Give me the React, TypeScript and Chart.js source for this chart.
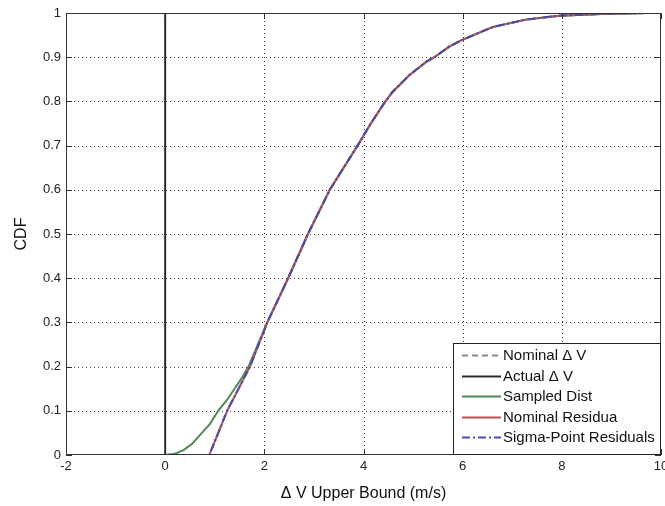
import React, { useEffect, useRef } from "react";
import { Chart, registerables } from "chart.js";

Chart.register(...registerables);

// ---- data ----
const xTicks = [-2, 0, 2, 4, 6, 8, 10];
const yTicks = [0, 0.1, 0.2, 0.3, 0.4, 0.5, 0.6, 0.7, 0.8, 0.9, 1];

const nominalX = [0, 0.89, 1.25, 1.71, 2.06, 2.48, 2.88, 3.32, 3.88, 4.12, 4.41, 4.59, 4.93, 5.27, 5.43, 5.73, 5.97, 6.3, 6.6, 7.27, 7.95, 8.81, 9.69];
const nominalY = [0, 0, 0.1, 0.2, 0.3, 0.4, 0.5, 0.6, 0.7, 0.745, 0.795, 0.822, 0.86, 0.89, 0.9, 0.924, 0.938, 0.954, 0.968, 0.985, 0.994, 0.998, 1.0];

const sigmaX = [0, 0.89, 1.25, 1.71, 2.06, 2.48, 2.88, 3.32, 3.88, 4.12, 4.41, 4.59, 4.93, 5.27, 5.43, 5.73, 5.97, 6.3, 6.6, 7.27, 7.95, 8.81, 9.69];
const sigmaY = [0, 0, 0.1, 0.2, 0.3, 0.4, 0.5, 0.6, 0.7, 0.745, 0.795, 0.822, 0.86, 0.89, 0.9, 0.924, 0.938, 0.954, 0.968, 0.985, 0.994, 0.998, 1.0];

const sampledX = [0, 0.2, 0.37, 0.55, 0.7, 0.9, 1.07, 1.25, 1.4, 1.55, 1.68, 1.87, 2.06, 2.48, 2.88, 3.32, 3.88, 4.12, 4.41, 4.59, 4.93, 5.27, 5.43, 5.73, 5.97, 6.3, 6.6, 7.27, 7.95, 8.81, 9.69];
const sampledY = [0, 0.003, 0.011, 0.026, 0.045, 0.07, 0.1, 0.125, 0.15, 0.175, 0.2, 0.25, 0.3, 0.4, 0.5, 0.6, 0.7, 0.745, 0.795, 0.822, 0.86, 0.89, 0.9, 0.924, 0.938, 0.954, 0.968, 0.985, 0.994, 0.998, 1.0];

const actualX = [-2, 0, 0, 10];
const actualY = [0, 0, 1, 1];

const legendLabels = ["Nominal \u0394 V", "Actual \u0394 V", "Sampled Dist", "Nominal Residua", "Sigma-Point Residuals"];

const FONT = "'Liberation Sans', Arial, Helvetica, sans-serif";

const zip = (xs: number[], ys: number[]) => xs.map((x, i) => ({ x, y: ys[i] }));

const styles = [
  { color: "#8a8a8a", dash: [6, 4] },
  { color: "#2a2a2a", dash: [] as number[] },
  { color: "#4f8a55", dash: [] as number[] },
  { color: "#b8555a", dash: [] as number[] },
  { color: "#4a4aa8", dash: [8, 3, 2, 3] },
];

const matlabAxes = {
  id: "matlabAxes",
  beforeDatasetsDraw(chart: any) {
    const { ctx, chartArea: a, scales } = chart;
    const x = scales.x, y = scales.y;
    ctx.save();
    ctx.strokeStyle = "#444";
    ctx.lineWidth = 1;
    ctx.setLineDash([1, 3]);
    for (const v of xTicks) {
      if (v === xTicks[0] || v === xTicks[xTicks.length - 1]) continue;
      const px = Math.round(x.getPixelForValue(v)) + 0.5;
      ctx.beginPath();
      ctx.moveTo(px, a.top);
      ctx.lineTo(px, a.bottom);
      ctx.stroke();
    }
    for (const v of yTicks) {
      if (v === yTicks[0] || v === yTicks[yTicks.length - 1]) continue;
      const py = Math.round(y.getPixelForValue(v)) + 0.5;
      ctx.beginPath();
      ctx.moveTo(a.left, py);
      ctx.lineTo(a.right, py);
      ctx.stroke();
    }
    ctx.restore();
  },
  afterDatasetsDraw(chart: any) {
    const { ctx, chartArea: a, scales } = chart;
    const x = scales.x, y = scales.y;
    ctx.save();
    ctx.setLineDash([]);
    ctx.strokeStyle = "#333";
    ctx.lineWidth = 1;
    ctx.strokeRect(a.left + 0.5, a.top + 0.5, a.right - a.left - 1, a.bottom - a.top - 1);
    const tl = 6;
    ctx.beginPath();
    for (const v of xTicks) {
      const px = Math.round(x.getPixelForValue(v)) + 0.5;
      ctx.moveTo(px, a.bottom);
      ctx.lineTo(px, a.bottom - tl);
      ctx.moveTo(px, a.top);
      ctx.lineTo(px, a.top + tl);
    }
    for (const v of yTicks) {
      const py = Math.round(y.getPixelForValue(v)) + 0.5;
      ctx.moveTo(a.left, py);
      ctx.lineTo(a.left + tl, py);
      ctx.moveTo(a.right, py);
      ctx.lineTo(a.right - tl, py);
    }
    ctx.stroke();

    // legend box
    const lw = 208, lh = 112;
    const lx = a.right - lw, ly = a.bottom - lh;
    ctx.fillStyle = "#fff";
    ctx.fillRect(lx, ly, lw, lh);
    ctx.strokeStyle = "#222";
    ctx.strokeRect(lx + 0.5, ly + 0.5, lw - 1, lh - 1);
    ctx.beginPath();
    ctx.rect(lx + 1, ly + 1, lw - 2, lh - 2);
    ctx.clip();
    ctx.font = `15px ${FONT}`;
    ctx.textBaseline = "middle";
    ctx.textAlign = "left";
    legendLabels.forEach((label, i) => {
      const cy = Math.round(ly + 12 + i * 20.5) + 0.5;
      const s = styles[i];
      ctx.strokeStyle = s.color;
      ctx.lineWidth = 2;
      ctx.setLineDash(s.dash);
      ctx.beginPath();
      ctx.moveTo(lx + 9, cy);
      ctx.lineTo(lx + 48, cy);
      ctx.stroke();
      ctx.fillStyle = "#111";
      ctx.fillText(label, lx + 50, cy);
    });
    ctx.restore();
  },
};

export default function App() {
  const ref = useRef<HTMLCanvasElement>(null);
  useEffect(() => {
    document.body.style.margin = "0";
    const canvas = ref.current!;
    const datasets = [
      { label: legendLabels[0], data: zip(nominalX, nominalY), order: 5 },
      { label: legendLabels[1], data: zip(actualX, actualY), order: 4 },
      { label: legendLabels[2], data: zip(sampledX, sampledY), order: 3 },
      { label: legendLabels[3], data: zip(nominalX, nominalY), order: 2 },
      { label: legendLabels[4], data: zip(sigmaX, sigmaY), order: 1 },
    ].map((d, i) => ({
      ...d,
      showLine: true,
      pointRadius: 0,
      borderColor: styles[i].color,
      backgroundColor: styles[i].color,
      borderDash: styles[i].dash,
      borderWidth: 2,
      tension: 0,
    }));

    const chart = new Chart(canvas, {
      type: "scatter",
      data: { datasets },
      plugins: [matlabAxes],
      options: {
        animation: false,
        responsive: false,
        layout: { padding: { top: 13, right: 4, left: 0, bottom: 0 } },
        plugins: { legend: { display: false }, tooltip: { enabled: false } },
        scales: {
          x: {
            type: "linear",
            min: -2,
            max: 10,
            afterBuildTicks: (s: any) => { s.ticks = xTicks.map((v) => ({ value: v })); },
            afterFit: (s: any) => { s.height = 51; s.paddingLeft = 0; s.paddingRight = 0; },
            ticks: {
              autoSkip: false,
              maxRotation: 0,
              padding: 4,
              color: "#222",
              font: { family: FONT, size: 13 },
              callback: (v: any) => String(v),
            },
            grid: { display: false, drawTicks: false },
            border: { display: false },
            title: {
              display: true,
              text: "\u0394 V Upper Bound (m/s)",
              color: "#111",
              font: { family: FONT, size: 16 },
              padding: { top: 0, bottom: 3 },
            },
          },
          y: {
            type: "linear",
            min: 0,
            max: 1,
            afterBuildTicks: (s: any) => { s.ticks = yTicks.map((v) => ({ value: v })); },
            afterFit: (s: any) => { s.width = 66; s.paddingTop = 0; s.paddingBottom = 0; },
            ticks: {
              autoSkip: false,
              padding: 5,
              color: "#222",
              font: { family: FONT, size: 13 },
              callback: (v: any) => String(Math.round(v * 10) / 10),
            },
            grid: { display: false, drawTicks: false },
            border: { display: false },
            title: {
              display: true,
              text: "CDF",
              color: "#111",
              font: { family: FONT, size: 16 },
              padding: { top: 12, bottom: 0 },
            },
          },
        },
      },
    } as any);
    return () => chart.destroy();
  }, []);
  return (
    <div style={{ width: 665, height: 506 }}>
      <canvas ref={ref} width={665} height={506} style={{ display: "block" }} />
    </div>
  );
}
